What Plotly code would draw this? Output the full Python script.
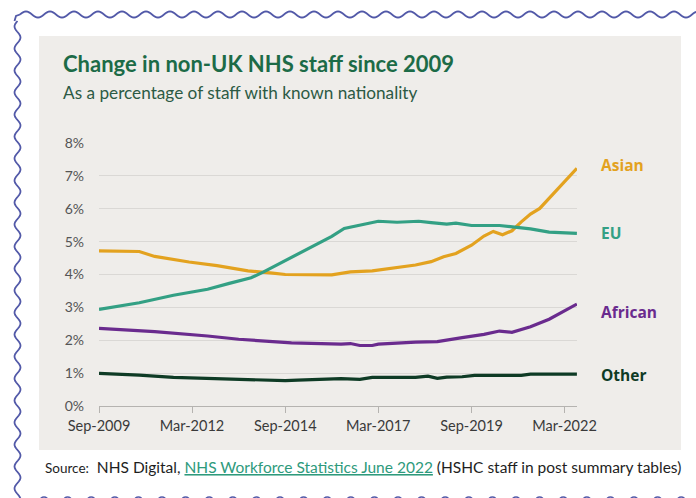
import math
import plotly.graph_objects as go

# ---------------- data ----------------
asian_dates = ["2009-09-01", "2010-10-01", "2011-03-01", "2012-02-01", "2012-11-01",
               "2013-09-01", "2014-05-01", "2014-09-01", "2015-12-01", "2016-06-01",
               "2017-01-01", "2017-09-01", "2018-03-01", "2018-08-01", "2018-12-01",
               "2019-04-01", "2019-09-01", "2020-01-01", "2020-04-01", "2020-07-01",
               "2020-10-01", "2021-01-01", "2021-04-01", "2021-07-01", "2022-01-01",
               "2022-06-30"]
asian_pct = [4.72, 4.70, 4.55, 4.38, 4.27, 4.11, 4.04, 4.00, 3.99, 4.08,
             4.11, 4.21, 4.29, 4.39, 4.54, 4.64, 4.89, 5.17, 5.31, 5.21,
             5.33, 5.60, 5.84, 6.01, 6.62, 7.23]

eu_dates = ["2009-09-01", "2010-10-01", "2011-09-01", "2012-08-01", "2013-03-01",
            "2013-10-01", "2014-02-01", "2014-11-01", "2015-07-01", "2015-12-01",
            "2016-04-01", "2016-10-01", "2017-03-01", "2017-09-01", "2018-04-01",
            "2018-08-01", "2019-01-01", "2019-04-01", "2019-09-01", "2020-06-01",
            "2020-12-01", "2021-04-01", "2021-10-01", "2022-06-30"]
eu_pct = [2.94, 3.14, 3.37, 3.55, 3.73, 3.90, 4.08, 4.52, 4.92, 5.16,
          5.40, 5.53, 5.62, 5.59, 5.62, 5.58, 5.53, 5.56, 5.49, 5.49,
          5.42, 5.39, 5.29, 5.25]

african_dates = ["2009-09-01", "2011-03-01", "2012-08-01", "2013-06-01", "2014-11-01",
                 "2016-03-01", "2016-06-01", "2016-09-01", "2017-01-01", "2017-03-01",
                 "2018-03-01", "2018-10-01", "2019-06-01", "2020-01-01", "2020-06-01",
                 "2020-10-01", "2021-04-01", "2021-10-01", "2022-06-30"]
african_pct = [2.36, 2.26, 2.13, 2.03, 1.92, 1.88, 1.90, 1.84, 1.84, 1.88,
               1.94, 1.96, 2.08, 2.18, 2.28, 2.24, 2.41, 2.64, 3.10]

other_dates = ["2009-09-01", "2010-10-01", "2011-09-01", "2013-06-01", "2014-09-01",
               "2015-01-01", "2016-03-01", "2016-09-01", "2017-01-01", "2018-03-01",
               "2018-07-01", "2018-10-01", "2019-01-01", "2019-06-01", "2019-10-01",
               "2021-01-01", "2021-04-01", "2022-06-30"]
other_pct = [0.99, 0.94, 0.87, 0.81, 0.77, 0.79, 0.83, 0.81, 0.87, 0.87,
             0.91, 0.84, 0.88, 0.89, 0.93, 0.93, 0.97, 0.97]

series_names = ["Asian", "EU", "African", "Other"]
series_colors = ["#E3A21F", "#33A084", "#6A2B8E", "#0E3B25"]

x_tick_vals = ["2009-09-01", "2012-03-01", "2014-09-01", "2017-03-01", "2019-09-01", "2022-03-01"]
x_tick_text = ["Sep-2009", "Mar-2012", "Sep-2014", "Mar-2017", "Sep-2019", "Mar-2022"]
y_tick_vals = [0, 1, 2, 3, 4, 5, 6, 7, 8]
y_tick_text = ["0%", "1%", "2%", "3%", "4%", "5%", "6%", "7%", "8%"]

title_text = "Change in non-UK NHS staff since 2009"
subtitle_text = "As a percentage of staff with known nationality"

# ---------------- layout geometry (pixels) ----------------
W, H = 696, 498
L, R, T, B = 99, 577, 143, 406   # plot area


def px(x):
    return (x - L) / (R - L)


def py(y):
    return (B - y) / (B - T)


PANEL = "#EFEDEA"
BORDER = "#5259A8"

fig = go.Figure()
all_series = [(asian_dates, asian_pct), (eu_dates, eu_pct),
              (african_dates, african_pct), (other_dates, other_pct)]
for (d, v), name, col in zip(all_series, series_names, series_colors):
    fig.add_trace(go.Scatter(x=d, y=v, mode="lines", name=name,
                             line=dict(color=col, width=3.2),
                             showlegend=False, hoverinfo="skip"))

shapes = []
# grey panel
shapes.append(dict(type="rect", xref="paper", yref="paper", layer="below",
                   x0=px(39), x1=px(681), y0=py(450), y1=py(36),
                   fillcolor=PANEL, line=dict(width=0)))

# wavy top border (decoration)
pts = []
x = 20.0
while x <= 700:
    yv = 14.5 - 3.0 * math.sin((x - 20) / 24.0 * 2 * math.pi)
    pts.append((x, yv))
    x += 1.5
path = "M " + " L ".join(f"{px(a):.5f},{py(b):.5f}" for a, b in pts)
shapes.append(dict(type="path", xref="paper", yref="paper", path=path,
                   line=dict(color=BORDER, width=1.8)))
# top-left corner
corner = [(20, 14.5), (16, 16), (14.5, 21)]
shapes.append(dict(type="path", xref="paper", yref="paper",
                   path="M " + " L ".join(f"{px(a):.5f},{py(b):.5f}" for a, b in corner),
                   line=dict(color=BORDER, width=1.8)))
# wavy left border
pts = []
y = 21.0
while y <= 500:
    xv = 17.5 - 3.0 * math.sin((y - 21) / 22.0 * 2 * math.pi)
    pts.append((xv, y))
    y += 1.5
path = "M " + " L ".join(f"{px(a):.5f},{py(b):.5f}" for a, b in pts)
shapes.append(dict(type="path", xref="paper", yref="paper", path=path,
                   line=dict(color=BORDER, width=1.8)))
# bottom dotted edge
cx = 44.0
while cx < 690:
    shapes.append(dict(type="circle", xref="paper", yref="paper",
                       x0=px(cx - 4), x1=px(cx + 4), y0=py(505), y1=py(497),
                       line=dict(color=BORDER, width=1.6)))
    cx += 23.6

annotations = [
    dict(text=f"<b>{title_text}</b>", x=px(61), y=py(63), xref="paper", yref="paper",
         xanchor="left", yanchor="middle", showarrow=False,
         font=dict(family="Lato", size=22, color="#1C6B47")),
    dict(text=subtitle_text, x=px(61), y=py(92), xref="paper", yref="paper",
         xanchor="left", yanchor="middle", showarrow=False,
         font=dict(family="Lato", size=17.2, color="#2C5A44")),
    dict(text=("<span style='font-size:13.5px'>Source:</span>  NHS Digital, "
               "<span style='color:#2E9A7C;text-decoration:underline'>"
               "NHS Workforce Statistics June 2022</span> (HSHC staff in post summary tables)"),
         x=px(43), y=py(467), xref="paper", yref="paper",
         xanchor="left", yanchor="middle", showarrow=False,
         font=dict(family="Lato", size=15.5, color="#1E1E1E")),
]
label_y = [165, 233, 312, 375]
for name, col, yy in zip(series_names, series_colors, label_y):
    annotations.append(dict(text=f"<b>{name}</b>", x=px(599), y=py(yy),
                            xref="paper", yref="paper", xanchor="left", yanchor="middle",
                            showarrow=False,
                            font=dict(family="Open Sans", size=15.5, color=col)))

fig.update_layout(
    width=W, height=H,
    margin=dict(l=L, r=W - R, t=T, b=H - B, pad=0),
    paper_bgcolor="white", plot_bgcolor=PANEL,
    shapes=shapes, annotations=annotations,
    font=dict(family="Lato", color="#444444"),
    xaxis=dict(type="date", range=["2009-09-01", "2022-07-01"],
               tickvals=x_tick_vals, ticktext=x_tick_text,
               showgrid=False, zeroline=False,
               showline=True, linecolor="#B5B3B0", linewidth=1.2,
               ticks="outside", ticklen=6, tickcolor="#B5B3B0", tickwidth=1.2,
               tickfont=dict(family="Lato", size=14.5, color="#3A3A3A")),
    yaxis=dict(range=[0, 8], tickvals=y_tick_vals, ticktext=y_tick_text,
               showgrid=True, gridcolor="#DAD8D5", gridwidth=1,
               zeroline=False, showline=False, ticks="", ticklabelstandoff=14,
               tickfont=dict(family="Lato", size=14, color="#555555")),
)

fig.write_html("out.html")
